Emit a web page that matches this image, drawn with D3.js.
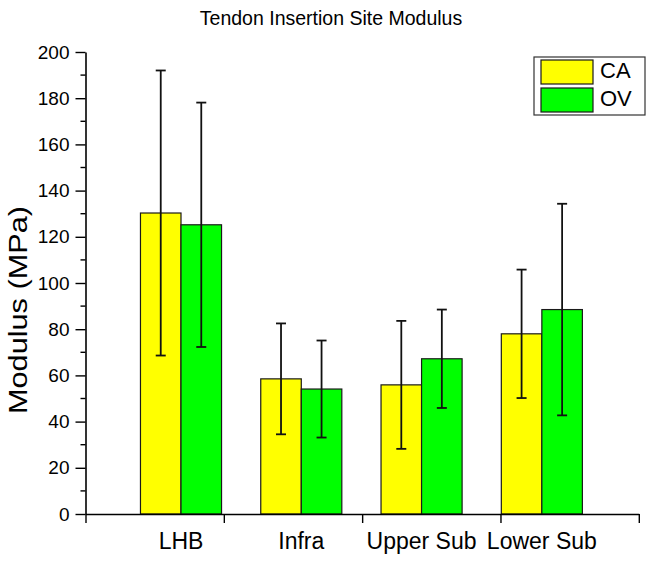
<!DOCTYPE html>
<html>
<head>
<meta charset="utf-8">
<script src="https://cdn.jsdelivr.net/npm/d3@7"></script>
<style>
  html, body { margin: 0; padding: 0; background: #fff; }
  svg { display: block; font-family: "Liberation Sans", Arial, sans-serif; }
</style>
</head>
<body>
<svg id="chart" width="654" height="563"></svg>
<script>
// ---- data ----
const categories = ["LHB", "Infra", "Upper Sub", "Lower Sub"];
const seriesNames = ["CA", "OV"];
const caMeans = [130.3, 58.5, 55.9, 78.0];
const caErrors = [61.7, 24.0, 27.7, 27.8];
const ovMeans = [125.2, 54.1, 67.2, 88.5];
const ovErrors = [52.9, 21.0, 21.3, 45.8];
const yTicks = [0, 20, 40, 60, 80, 100, 120, 140, 160, 180, 200];
const seriesColors = ["#ffff00", "#00ff00"];

const svg = d3.select("#chart");

// ---- scales ----
const y = d3.scaleLinear().domain([0, 200]).range([514, 52]);
const x = d3.scaleLinear().domain([0.206, 4.806]).range([85.5, 638.8]);
const barW = 0.337; // in category units

const series = [
  { name: seriesNames[0], means: caMeans, errs: caErrors, color: seriesColors[0], off: -1 },
  { name: seriesNames[1], means: ovMeans, errs: ovErrors, color: seriesColors[1], off: 0 }
];

// ---- bars ----
series.forEach(s => {
  const g = svg.append("g");
  g.selectAll("rect").data(s.means).enter().append("rect")
    .attr("x", (d, i) => x(i + 1 + s.off * barW))
    .attr("width", x(barW) - x(0))
    .attr("y", d => y(d))
    .attr("height", d => y(0) - y(d))
    .attr("fill", s.color)
    .attr("stroke", "#1a1a1a")
    .attr("stroke-width", 1.2);
});

// ---- error bars ----
series.forEach(s => {
  const g = svg.append("g").attr("stroke", "#111").attr("stroke-width", 1.8);
  s.means.forEach((m, i) => {
    const cx = x(i + 1 + s.off * barW + barW / 2);
    const hi = y(m + s.errs[i]), lo = y(m - s.errs[i]);
    g.append("line").attr("x1", cx).attr("x2", cx).attr("y1", hi).attr("y2", lo);
    g.append("line").attr("x1", cx - 5).attr("x2", cx + 5).attr("y1", hi).attr("y2", hi);
    g.append("line").attr("x1", cx - 5).attr("x2", cx + 5).attr("y1", lo).attr("y2", lo);
  });
});

// ---- y axis ----
const yAxis = d3.axisLeft(y).tickValues(yTicks).tickSize(10).tickSizeOuter(0).tickPadding(6);
const yg = svg.append("g").attr("transform", `translate(${x(0.206)},0)`).call(yAxis);
yg.select(".domain").attr("stroke", "#000").attr("stroke-width", 1.6);
yg.selectAll(".tick line").attr("stroke", "#000").attr("stroke-width", 1.4);
yg.selectAll(".tick text").attr("font-size", 19).attr("fill", "#000")
  .attr("font-family", "Liberation Sans, Arial, sans-serif");
// minor ticks
const minor = d3.range(10, 200, 20);
yg.selectAll(".minor").data(minor).enter().append("line")
  .attr("x1", -5).attr("x2", 0)
  .attr("y1", d => y(d)).attr("y2", d => y(d))
  .attr("stroke", "#000").attr("stroke-width", 1.4);

// ---- x axis ----
const xTickVals = d3.range(5).map(k => 0.206 + k * 1.15);
const xAxis = d3.axisBottom(x).tickValues(xTickVals).tickSize(9).tickSizeOuter(0).tickFormat("");
const xg = svg.append("g").attr("transform", `translate(0,${y(0)})`).call(xAxis);
xg.select(".domain").attr("stroke", "#000").attr("stroke-width", 1.6);
xg.selectAll(".tick line").attr("stroke", "#000").attr("stroke-width", 1.4);

// category labels
svg.append("g").selectAll("text").data(categories).enter().append("text")
  .attr("x", (d, i) => x(i + 1))
  .attr("y", 549)
  .attr("text-anchor", "middle")
  .attr("font-size", 23)
  .attr("fill", "#000")
  .text(d => d);

// ---- title ----
svg.append("text")
  .attr("x", 331).attr("y", 25)
  .attr("text-anchor", "middle")
  .attr("font-size", 19.5)
  .attr("fill", "#000")
  .text("Tendon Insertion Site Modulus");

// ---- y title ----
svg.append("text")
  .attr("transform", "translate(27,310) rotate(-90)")
  .attr("text-anchor", "middle")
  .attr("font-size", 25)
  .attr("textLength", 208)
  .attr("lengthAdjust", "spacingAndGlyphs")
  .attr("fill", "#000")
  .text("Modulus (MPa)");

// ---- legend ----
const lg = svg.append("g");
lg.append("rect").attr("x", 534).attr("y", 57).attr("width", 111).attr("height", 58)
  .attr("fill", "#fff").attr("stroke", "#333").attr("stroke-width", 1.2);
series.forEach((s, i) => {
  lg.append("rect").attr("x", 541).attr("y", 60 + i * 28).attr("width", 52).attr("height", 24)
    .attr("fill", s.color).attr("stroke", "#1a1a1a").attr("stroke-width", 1.2);
  lg.append("text").attr("x", 600).attr("y", 78 + i * 27.5)
    .attr("font-size", 22).attr("fill", "#000").text(s.name);
});
</script>
</body>
</html>
